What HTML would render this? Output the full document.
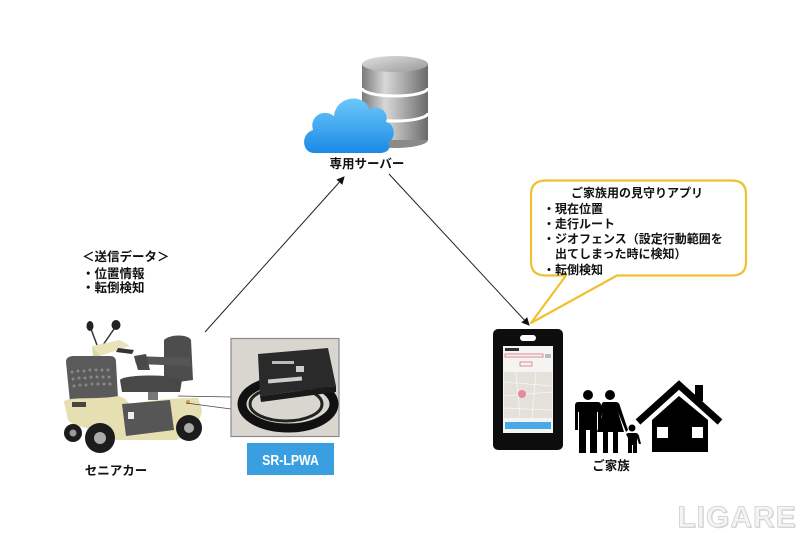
<!DOCTYPE html>
<html><head><meta charset="utf-8"><style>
html,body{margin:0;padding:0;background:#fff;}
body{width:800px;height:533px;overflow:hidden;position:relative;font-family:"Liberation Sans","Noto Sans CJK JP",sans-serif;}
svg{position:absolute;left:0;top:0;}
.t{font-family:"Liberation Sans","Noto Sans CJK JP",sans-serif;font-weight:bold;fill:#111;}
</style></head><body>
<svg width="800" height="533" viewBox="0 0 800 533" xmlns="http://www.w3.org/2000/svg">
<defs>
<linearGradient id="cyl" x1="0" x2="1" y1="0" y2="0">
<stop offset="0" stop-color="#7a7a7a"/><stop offset="0.35" stop-color="#d8d8d8"/><stop offset="0.6" stop-color="#b0b0b0"/><stop offset="1" stop-color="#6a6a6a"/>
</linearGradient>
<linearGradient id="cyltop" x1="0" x2="1" y1="0" y2="1">
<stop offset="0" stop-color="#e0e0e0"/><stop offset="1" stop-color="#9a9a9a"/>
</linearGradient>
<linearGradient id="cloud" x1="0" x2="0" y1="0" y2="1">
<stop offset="0" stop-color="#6cc8fa"/><stop offset="1" stop-color="#1a8ae6"/>
</linearGradient>
<marker id="ah" markerWidth="8" markerHeight="8" refX="7" refY="4" orient="auto" markerUnits="userSpaceOnUse">
<path d="M0,0 L8,4 L0,8 z" fill="#111"/>
</marker>
</defs>

<!-- database -->
<g>
<rect x="362" y="64" width="66" height="76" fill="url(#cyl)"/>
<path d="M362,140 A33,8 0 0 0 428,140" fill="#8a8a8a"/>
<path d="M362,88 A33,8 0 0 0 428,88" fill="none" stroke="#fff" stroke-width="3"/>
<path d="M362,113 A33,8 0 0 0 428,113" fill="none" stroke="#fff" stroke-width="3"/>
<ellipse cx="395" cy="64" rx="33" ry="8" fill="url(#cyltop)"/>
</g>
<!-- cloud -->
<path d="M314,153 C302,153 300,134 313,130 C309,116 324,108 334,116 C336,96 364,92 370,110 C376,104 390,110 386,122 C396,124 396,140 388,142 C392,150 386,153 380,153 Z" fill="url(#cloud)"/>

<text class="t" x="367" y="168" font-size="12.5" text-anchor="middle">専用サーバー</text>

<!-- arrows -->
<line x1="205" y1="332" x2="344" y2="177" stroke="#222" stroke-width="1" marker-end="url(#ah)"/>
<line x1="389" y1="174" x2="529" y2="325" stroke="#222" stroke-width="1" marker-end="url(#ah)"/>

<!-- left text -->
<text class="t" x="82" y="261" font-size="12.5">＜送信データ＞</text>
<text class="t" x="82" y="278" font-size="12.5">・位置情報</text>
<text class="t" x="82" y="292" font-size="12.5">・転倒検知</text>

<!-- scooter -->
<g>
<line x1="91" y1="329" x2="97" y2="345" stroke="#333" stroke-width="1.5"/>
<line x1="114" y1="329" x2="103" y2="345" stroke="#333" stroke-width="1.5"/>
<ellipse cx="90" cy="326" rx="3.5" ry="5" fill="#222"/>
<ellipse cx="116" cy="325" rx="4.5" ry="5" fill="#222"/>
<path d="M92,346 L120,340 L130,346 L100,356 Z" fill="#e9e3bb"/>
<path d="M118,348 L134,350 L132,354 L116,352 Z" fill="#333"/>
<path d="M92,346 L100,356 L104,380 L96,384 Z" fill="#ddd6a8"/>
<path d="M66,362 Q66,356 74,356 L110,356 Q116,356 116,362 L118,398 L70,402 Z" fill="#5a5a5a"/>
<g fill="#888">
<circle cx="72" cy="372" r="1.5"/><circle cx="78" cy="371" r="1.5"/><circle cx="84" cy="371" r="1.5"/><circle cx="90" cy="370" r="1.5"/><circle cx="96" cy="370" r="1.5"/><circle cx="102" cy="370" r="1.5"/><circle cx="108" cy="370" r="1.5"/>
<circle cx="73" cy="379" r="1.5"/><circle cx="79" cy="378" r="1.5"/><circle cx="85" cy="378" r="1.5"/><circle cx="91" cy="377" r="1.5"/><circle cx="97" cy="377" r="1.5"/><circle cx="103" cy="377" r="1.5"/><circle cx="109" cy="377" r="1.5"/>
<circle cx="74" cy="386" r="1.5"/><circle cx="80" cy="385" r="1.5"/><circle cx="86" cy="385" r="1.5"/><circle cx="92" cy="384" r="1.5"/><circle cx="98" cy="384" r="1.5"/><circle cx="104" cy="384" r="1.5"/><circle cx="110" cy="384" r="1.5"/>
</g>
<path d="M164,340 C170,334 188,334 191,340 L193,380 L164,384 Z" fill="#4d4d4d"/>
<path d="M134,356 L190,358 L192,366 L136,364 Z" fill="#555"/>
<path d="M134,356 L146,354 L150,370 L138,370 Z" fill="#4a4a4a"/>
<path d="M120,380 C124,374 176,374 182,380 L180,392 L122,392 Z" fill="#484848"/>
<rect x="148" y="392" width="10" height="8" fill="#777"/>
<path d="M64,402 C66,396 100,400 118,396 L124,398 L130,404 C150,400 175,398 198,398 L202,410 C200,425 190,436 176,440 L116,440 C100,426 76,430 68,420 Z" fill="#e6dfb2"/>
<path d="M122,404 L170,400 L174,430 L126,436 Z" fill="#565656"/>
<rect x="128" y="412" width="6" height="7" fill="#eee"/>
<rect x="72" y="402" width="14" height="5" fill="#444"/>
<circle cx="188" cy="402" r="2" fill="#d89a50"/>
<circle cx="73" cy="433" r="9" fill="#1c1c1c"/>
<circle cx="73" cy="433" r="3.5" fill="#999"/>
<circle cx="100" cy="438" r="15" fill="#1c1c1c"/>
<circle cx="100" cy="438" r="6" fill="#aaa"/>
<circle cx="189" cy="428" r="13" fill="#1c1c1c"/>
<circle cx="189" cy="428" r="5" fill="#aaa"/>
</g>
<text class="t" x="116" y="475" font-size="12.5" text-anchor="middle">セニアカー</text>

<!-- connector lines -->
<line x1="178" y1="396" x2="231" y2="397" stroke="#444" stroke-width="0.8"/>
<line x1="186" y1="403" x2="231" y2="409" stroke="#444" stroke-width="0.8"/>

<!-- SR-LPWA photo -->
<rect x="231" y="338.5" width="108" height="98" fill="#d9d6d0" stroke="#8a8a8a" stroke-width="1.2"/>
<ellipse cx="288" cy="404" rx="46" ry="24" fill="none" stroke="#111" stroke-width="9"/>
<ellipse cx="286" cy="404" rx="36" ry="17" fill="none" stroke="#222" stroke-width="3"/>
<path d="M258,354 L328,348 L336,386 L260,396 Z" fill="#2a2a2a"/>
<path d="M260,396 L336,386 L336,392 L261,402 Z" fill="#1a1a1a"/>
<rect x="272" y="361" width="22" height="3" fill="#bbb"/>
<rect x="268" y="378" width="34" height="4" fill="#ccc" transform="rotate(-5 285 380)"/>
<rect x="296" y="366" width="8" height="6" fill="#ccc"/>
<rect x="247" y="443" width="87" height="32" fill="#3a9fe0"/>
<text x="0" y="0" font-size="15" font-weight="bold" fill="#fff" text-anchor="middle" font-family="Liberation Sans, sans-serif" transform="translate(290.5 465) scale(0.82 1)">SR-LPWA</text>

<!-- speech bubble -->
<path d="M546,180.5 L732,180.5 Q746,180.5 746,194.5 L746,262 Q746,275.5 732,275.5 L617,275.5 L531,323 L566,275.5 L546,275.5 Q531,275.5 531,262 L531,194.5 Q531,180.5 546,180.5 Z" fill="#fff" stroke="#f0c030" stroke-width="2.2" stroke-linejoin="round"/>
<text class="t" x="637" y="197" font-size="12" text-anchor="middle">ご家族用の見守りアプリ</text>
<text class="t" x="543" y="213" font-size="12">・現在位置</text>
<text class="t" x="543" y="228" font-size="12">・走行ルート</text>
<text class="t" x="543" y="243" font-size="12">・ジオフェンス（設定行動範囲を</text>
<text class="t" x="555" y="258" font-size="12">出てしまった時に検知）</text>
<text class="t" x="543" y="274" font-size="12">・転倒検知</text>

<!-- phone -->
<rect x="493" y="329" width="70" height="121" rx="5" fill="#0d0d0d"/>
<rect x="520" y="335" width="16" height="6" rx="3" fill="#fff"/>
<rect x="503" y="346" width="50" height="87" fill="#f4f4f2"/>
<rect x="505" y="348" width="14" height="3" fill="#333"/>
<rect x="505" y="354" width="38" height="3" fill="none" stroke="#e07080" stroke-width="0.8"/>
<rect x="545" y="354" width="6" height="4" fill="#bbb"/>
<rect x="520" y="362" width="12" height="4" fill="none" stroke="#e07080" stroke-width="0.8"/>
<rect x="504" y="372" width="48" height="46" fill="#e4e1da"/>
<g stroke="#f6f6f4" stroke-width="0.8">
<line x1="504" y1="382" x2="552" y2="386"/><line x1="504" y1="396" x2="552" y2="392"/><line x1="504" y1="408" x2="552" y2="410"/><line x1="516" y1="372" x2="520" y2="418"/><line x1="536" y1="372" x2="532" y2="418"/>
</g>
<circle cx="522" cy="394" r="4" fill="#e48a9c"/>
<rect x="505" y="422" width="46" height="7" fill="#49a8e8"/>

<!-- family -->
<g fill="#000">
<circle cx="588" cy="395" r="5"/>
<path d="M578,402 L598,402 Q601,402 601,406 L601,430 L598,430 L598,412 L597,412 L597,453 L590,453 L590,430 L586,430 L586,453 L579,453 L579,412 L578,412 L578,430 L575,430 L575,406 Q575,402 578,402 Z"/>
<circle cx="610" cy="395" r="5"/>
<path d="M604,402 L616,402 Q619,402 620,406 L628,430 L626,432 L618,412 L624,432 L618,432 L618,453 L613,453 L613,432 L608,432 L608,453 L603,453 L603,432 L597,432 L603,412 L600,420 L599,418 L601,406 Q602,402 604,402 Z"/>
<circle cx="632" cy="428" r="3.5"/>
<path d="M628,433 L636,433 Q638,433 639,436 L641,444 L639,444 L637,438 L637,453 L633,453 L633,445 L632,445 L632,453 L628,453 L628,438 L626,434 Z"/>
</g>

<!-- house -->
<g>
<rect x="695" y="385" width="8" height="16" fill="#000"/>
<path d="M679,396 L708,420 L708,452 L652,452 L652,420 Z" fill="#000"/>
<path d="M638,422 L679,385 L720,422" fill="none" stroke="#000" stroke-width="7" stroke-linejoin="miter"/>
<rect x="657" y="427" width="11" height="11" fill="#fff"/>
<rect x="692" y="427" width="11" height="11" fill="#fff"/>
</g>
<text class="t" x="611" y="470" font-size="12.5" text-anchor="middle">ご家族</text>

<!-- watermark -->
<text x="738" y="528" font-size="30" font-weight="bold" text-anchor="middle" fill="#dcdcdc" font-family="Liberation Sans, sans-serif" letter-spacing="1">LIGARE</text>
<text x="737" y="527" font-size="30" font-weight="bold" text-anchor="middle" fill="#f4f4f4" stroke="#cfcfcf" stroke-width="0.8" font-family="Liberation Sans, sans-serif" letter-spacing="1">LIGARE</text>
</svg>
</body></html>
